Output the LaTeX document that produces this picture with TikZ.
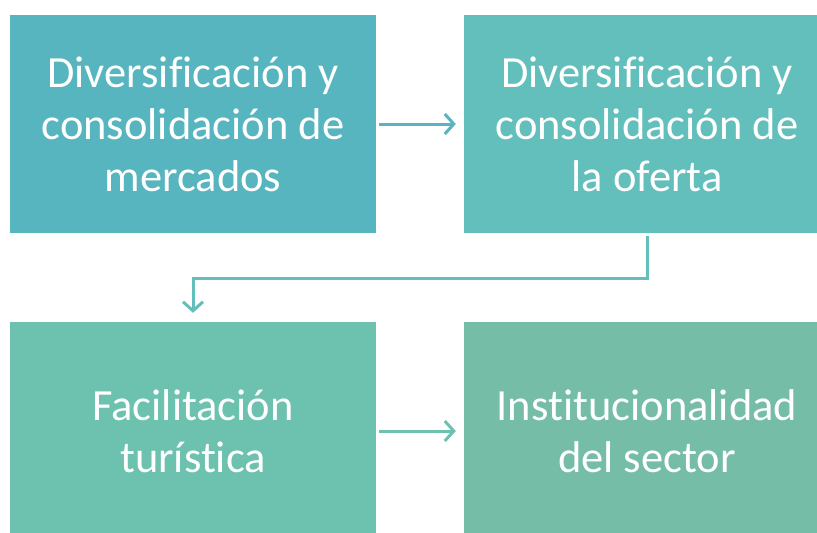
\documentclass[tikz,border=0pt]{standalone}
\usepackage{fontspec}
\setmainfont[Ligatures={NoCommon}]{Carlito}
\usetikzlibrary{arrows.meta}
\definecolor{cA}{HTML}{57B5C0}
\definecolor{cB}{HTML}{63BFBC}
\definecolor{cC}{HTML}{6CC1AF}
\definecolor{cD}{HTML}{76BDA7}
\begin{document}
\begin{tikzpicture}[x=1pt,y=-1pt,
  box/.style={draw=none,minimum width=366pt,minimum height=218pt,inner sep=0pt,align=center,text=white,font=\fontsize{44.5}{52}\selectfont},
  conn/.style={line width=3pt,-{Straight Barb[length=9pt,width=20pt,line width=3pt]}}]
\useasboundingbox (0,0) rectangle (817,533);
\clip (0,0) rectangle (817,533);
\node[box,fill=cA] (a) at (193,124) {Diversificación y\\consolidación de\\mercados};
\node[box,fill=cB] (b) at (647,124) {Diversificación y\\consolidación de\\la oferta};
\node[box,fill=cC] (c) at (193,431) {Facilitación\\turística};
\node[box,fill=cD] (d) at (647,431) {Institucionalidad\\del sector};
\draw[conn,cA] ([xshift=3pt]a.east) -- ([xshift=-8pt]b.west);
\draw[conn,cB] ([yshift=-3pt]b.south) |- (193,278) -- ([yshift=9pt]c.north);
\draw[conn,cC] ([xshift=3pt]c.east) -- ([xshift=-8pt]d.west);
\end{tikzpicture}
\end{document}
